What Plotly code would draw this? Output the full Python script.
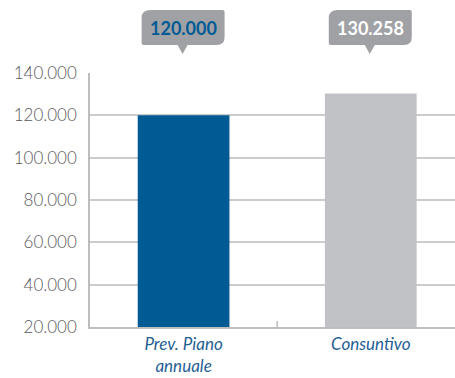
import plotly.graph_objects as go

# Data
categories = ["Prev. Piano<br>annuale", "Consuntivo"]
values = [120000, 130258]
value_labels = ["120.000", "130.258"]
bar_colors = ["#005A94", "#C1C2C6"]
label_colors = ["#005A94", "#FFFFFF"]
y_ticks = [20000, 40000, 60000, 80000, 100000, 120000, 140000]
y_tick_labels = ["20.000", "40.000", "60.000", "80.000", "100.000", "120.000", "140.000"]

FONT = "Lato"
CALLOUT_GRAY = "#A0A1A5"

fig = go.Figure(
    go.Bar(
        x=list(range(len(categories))),
        y=values,
        width=0.49,
        marker=dict(color=bar_colors, line=dict(width=0)),
        hoverinfo="skip",
    )
)

# Speech-bubble callouts above the plot area (pixel path anchored at each category)
bubble_path = (
    "M -33,63 L 39,63 Q 41,63 41,61 L 41,36 Q 41,28 33,28 "
    "L 4,28 L -1,19 L -6,28 L -40,28 Q -42,28 -42,30 L -42,55 Q -42,63 -33,63 Z"
)
shapes = []
annotations = []
for i, (lab, col) in enumerate(zip(value_labels, label_colors)):
    shapes.append(
        dict(
            type="path",
            xref="x",
            yref="paper",
            xsizemode="pixel",
            ysizemode="pixel",
            xanchor=i,
            yanchor=1,
            path=bubble_path,
            fillcolor=CALLOUT_GRAY,
            line=dict(width=0),
            layer="above",
        )
    )
    annotations.append(
        dict(
            x=i,
            y=1,
            xref="x",
            yref="paper",
            yshift=45,
            text=f"<b>{lab}</b>",
            showarrow=False,
            font=dict(family=FONT, size=18, color=col),
            xanchor="center",
            yanchor="middle",
        )
    )

fig.update_layout(
    width=455,
    height=378,
    margin=dict(l=90, r=0, t=73, b=51),
    paper_bgcolor="white",
    plot_bgcolor="white",
    showlegend=False,
    shapes=shapes,
    annotations=annotations,
    font=dict(family=FONT),
    xaxis=dict(
        range=[-0.5, 1.45],
        tickmode="array",
        tickvals=list(range(len(categories))),
        ticktext=categories,
        tickfont=dict(family=FONT, size=17, color="#1F5F94", style="italic"),
        showline=True,
        linecolor="#BDBDBD",
        linewidth=1.5,
        showgrid=False,
        ticks="",
        ticklabelstandoff=1,
        automargin=False,
        fixedrange=True,
    ),
    yaxis=dict(
        range=[20000, 140000],
        tickmode="array",
        tickvals=y_ticks,
        ticktext=y_tick_labels,
        tickfont=dict(family=FONT, size=17, color="#5A5B5D", weight=300),
        showline=True,
        linecolor="#BDBDBD",
        linewidth=1.5,
        showgrid=True,
        gridcolor="#CCCCCC",
        gridwidth=1.5,
        zeroline=False,
        ticks="",
        ticklabelstandoff=8,
        automargin=False,
        fixedrange=True,
    ),
)

# Small divider tick between the two categories on the baseline
fig.add_shape(
    type="line",
    xref="x",
    yref="paper",
    ysizemode="pixel",
    yanchor=0,
    x0=0.5,
    x1=0.5,
    y0=0,
    y1=6,
    line=dict(color="#BDBDBD", width=1.5),
)

fig.write_html("out.html")
